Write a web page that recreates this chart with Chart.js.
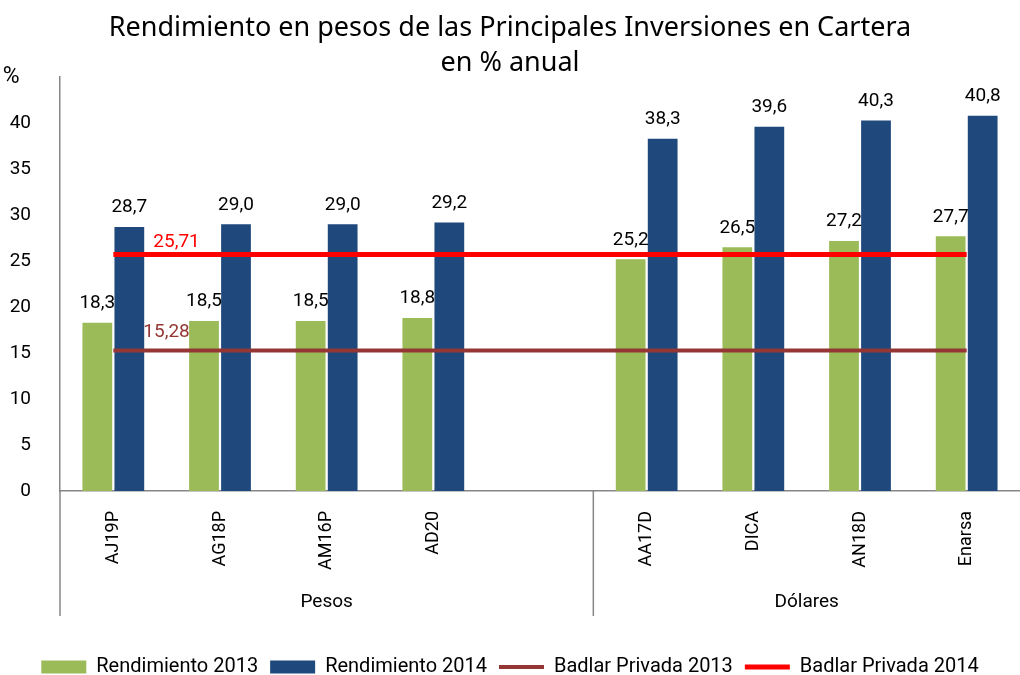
<!DOCTYPE html>
<html>
<head>
<meta charset="utf-8">
<script src="https://cdn.jsdelivr.net/npm/chart.js@4/dist/chart.umd.min.js"></script>
<style>
  html, body { margin: 0; padding: 0; background: #fff; }
  #wrap { width: 1020px; height: 675px; }
</style>
</head>
<body>
<div id="wrap"><canvas id="rendChart" width="1020" height="675"></canvas></div>
<script>
  var categories = ["AJ19P", "AG18P", "AM16P", "AD20", "", "AA17D", "DICA", "AN18D", "Enarsa"];
  var rend2013 = [18.3, 18.5, 18.5, 18.8, null, 25.2, 26.5, 27.2, 27.7];
  var rend2014 = [28.7, 29.0, 29.0, 29.2, null, 38.3, 39.6, 40.3, 40.8];
  var badlar2013 = 15.28;
  var badlar2014 = 25.71;
  var yTicks = [0, 5, 10, 15, 20, 25, 30, 35, 40, 45];
  var groups = [
    { label: "Pesos", from: 0, to: 4 },
    { label: "Dólares", from: 5, to: 8 }
  ];

  var mainFont = "Roboto, 'DejaVu Sans', sans-serif";

  function fmt(v, dec) {
    return v.toFixed(dec).replace(".", ",");
  }

  // value labels over bars and the two badlar lines
  var labelsPlugin = {
    id: "valueLabels",
    afterDatasetsDraw(chart) {
      var ctx = chart.ctx;
      ctx.save();
      ctx.font = "19px " + mainFont;
      ctx.textAlign = "center";
      ctx.textBaseline = "bottom";
      chart.data.datasets.forEach((ds, i) => {
        var meta = chart.getDatasetMeta(i);
        if (ds.type === "line") {
          var p = meta.data[0];
          ctx.fillStyle = ds.borderColor;
          ctx.textAlign = "left";
          ctx.fillText(fmt(ds.data[0], 2), p.x + ds.labelShift, p.y - ds.labelLift);
          ctx.textAlign = "center";
          return;
        }
        ctx.fillStyle = "#000";
        meta.data.forEach((el, j) => {
          if (ds.data[j] == null) return;
          ctx.fillText(fmt(ds.data[j], 1), el.x, el.y - 10);
        });
      });
      ctx.restore();
    }
  };

  // group labels (Pesos / Dólares) and separators under the x axis
  var groupPlugin = {
    id: "groupAxis",
    afterDraw(chart) {
      var ctx = chart.ctx, x = chart.scales.x, area = chart.chartArea;
      var half = (x.getPixelForValue(1) - x.getPixelForValue(0)) / 2;
      var bottom = area.bottom + 125;
      ctx.save();
      ctx.strokeStyle = "#868686";
      ctx.lineWidth = 1.5;
      ctx.beginPath();
      ctx.moveTo(area.left, area.bottom);
      ctx.lineTo(area.left, bottom);
      groups.forEach((g, k) => {
        if (k === 0) return;
        var sx = x.getPixelForValue(g.from) - half;
        ctx.moveTo(sx, area.bottom);
        ctx.lineTo(sx, bottom);
      });
      ctx.stroke();
      ctx.fillStyle = "#000";
      ctx.font = "19px " + mainFont;
      ctx.textAlign = "center";
      ctx.textBaseline = "middle";
      groups.forEach(g => {
        var a = x.getPixelForValue(g.from) - half;
        var b = Math.min(x.getPixelForValue(g.to) + half, area.right);
        ctx.fillText(g.label, (a + b) / 2, area.bottom + 111);
      });
      ctx.restore();
    }
  };

  var ctx = document.getElementById("rendChart").getContext("2d");
  var rendChart = new Chart(ctx, {
    data: {
      labels: categories,
      datasets: [
        {
          type: "bar",
          label: "Rendimiento 2013",
          data: rend2013,
          backgroundColor: "#9BBB59",
          categoryPercentage: 0.6,
          barPercentage: 0.93,
          order: 2
        },
        {
          type: "bar",
          label: "Rendimiento 2014",
          data: rend2014,
          backgroundColor: "#1F497D",
          categoryPercentage: 0.6,
          barPercentage: 0.93,
          order: 2
        },
        {
          type: "line",
          label: "Badlar Privada 2013",
          data: categories.map(() => badlar2013),
          borderColor: "#943634",
          backgroundColor: "#943634",
          borderWidth: 4,
          pointRadius: 0,
          labelShift: 30,
          labelLift: 9,
          order: 1
        },
        {
          type: "line",
          label: "Badlar Privada 2014",
          data: categories.map(() => badlar2014),
          borderColor: "#FF0000",
          backgroundColor: "#FF0000",
          borderWidth: 5,
          pointRadius: 0,
          labelShift: 40,
          labelLift: 3,
          order: 1
        }
      ]
    },
    options: {
      responsive: false,
      animation: false,
      layout: { padding: { top: 11, left: 0, right: 0, bottom: -12 } },
      plugins: {
        title: {
          display: true,
          text: ["Rendimiento en pesos de las Principales Inversiones en Cartera", "en % anual"],
          color: "#000",
          font: { family: "'Noto Sans', sans-serif", size: 27, weight: "normal", lineHeight: 1.3 },
          padding: { top: 0, bottom: -4 }
        },
        legend: {
          position: "bottom",
          labels: {
            color: "#000",
            font: { family: mainFont, size: 20 },
            usePointStyle: true,
            pointStyleWidth: 45,
            boxHeight: 13,
            padding: 12,
            generateLabels(chart) {
              return Chart.defaults.plugins.legend.labels.generateLabels(chart)
                .sort((a, b) => a.datasetIndex - b.datasetIndex)
                .map(l => {
                  var ds = chart.data.datasets[l.datasetIndex];
                  l.pointStyle = ds.type === "line" ? "line" : "rect";
                  return l;
                });
            }
          }
        },
        tooltip: { enabled: false }
      },
      scales: {
        x: {
          grid: { display: false },
          border: { color: "#868686", width: 1.5 },
          ticks: {
            color: "#000",
            font: { family: mainFont, size: 18 },
            minRotation: 90,
            maxRotation: 90,
            padding: 12,
            autoSkip: false
          },
          afterFit(scale) { scale.height = 154; }
        },
        y: {
          min: 0,
          max: 45,
          grid: { display: false },
          border: { color: "#868686", width: 1.5 },
          afterBuildTicks(scale) { scale.ticks = yTicks.map(v => ({ value: v })); },
          ticks: {
            color: "#000",
            font: c => ({ family: mainFont, size: c.tick && c.tick.value === 45 ? 23 : 19 }),
            padding: 21,
            callback: v => v === 45 ? "%  " : v
          },
          afterFit(scale) { scale.width = 60; }
        }
      }
    },
    plugins: [labelsPlugin, groupPlugin]
  });
</script>
</body>
</html>
